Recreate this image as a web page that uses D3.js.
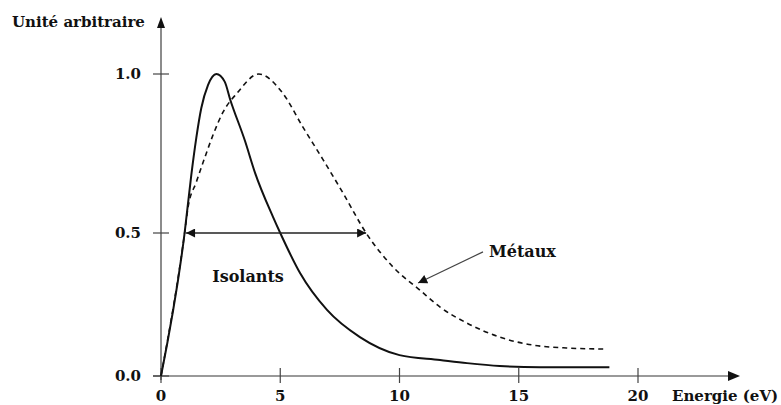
<!DOCTYPE html>
<html>
<head>
<meta charset="utf-8">
<script src="https://cdn.jsdelivr.net/npm/d3@7"></script>
<style>
  html, body { margin: 0; padding: 0; background: #fff; }
</style>
</head>
<body>
<svg id="chart" width="781" height="405"></svg>
<script>
// Energy (eV) and normalised intensity for each material family
const isolantsEnergy = [0, 0.99, 1.27, 1.48, 1.69, 1.97, 2.32, 2.67, 2.9, 3.52, 3.94, 4.7, 5.0, 5.83, 6.96, 8.34, 10.0, 11.7, 12.83, 14.2, 15.9, 18.8];
const isolantsValue  = [0, 0.5, 0.682, 0.799, 0.893, 0.965, 1.0, 0.976, 0.92, 0.79, 0.69, 0.55, 0.5, 0.36, 0.231, 0.136, 0.073, 0.056, 0.045, 0.035, 0.031, 0.031];

const metauxEnergy = [0, 0.99, 1.13, 1.48, 1.83, 2.18, 2.6, 3.19, 4.1, 5.1, 5.95, 6.8, 7.63, 8.6, 9.73, 10.86, 11.7, 12.83, 14.2, 15.6, 17.0, 18.7];
const metauxValue  = [0, 0.5, 0.579, 0.66, 0.736, 0.808, 0.88, 0.94, 1.0, 0.94, 0.833, 0.73, 0.626, 0.5, 0.381, 0.30, 0.241, 0.185, 0.136, 0.108, 0.098, 0.094];

const xTicks = [0, 5, 10, 15, 20];
const yTicks = [0.0, 0.5, 1.0];
const yTickLabels = ["0.0", "0.5", "1.0"];

// Width of the distribution at half maximum, and where the "Métaux" pointer lands
const halfWidth = [1.05, 8.6];
const metauxPointer = { from: [13.5, 0.434], to: [10.78, 0.325] };

const FONT = "DejaVu Serif, Liberation Serif, serif";

const svg = d3.select("#chart")
  .style("font-family", FONT)
  .style("font-weight", "bold");

const x = d3.scaleLinear().domain([0, 20]).range([161, 638]);
const y = d3.scaleLinear().domain([0, 0.5, 1]).range([376, 233, 74]);

// Arrowhead marker
const defs = svg.append("defs");
defs.append("marker")
  .attr("id", "tri")
  .attr("viewBox", "0 0 10 10")
  .attr("refX", 10).attr("refY", 5)
  .attr("markerWidth", 10).attr("markerHeight", 9)
  .attr("markerUnits", "userSpaceOnUse")
  .attr("orient", "auto-start-reverse")
  .append("path").attr("d", "M0,0 L10,5 L0,10 Z").attr("fill", "#111");

// Axes
svg.append("line")
  .attr("x1", 153).attr("x2", 728)
  .attr("y1", y(0)).attr("y2", y(0))
  .attr("stroke", "#999").attr("stroke-width", 2);
svg.append("path")
  .attr("d", `M728,${y(0) - 5} L740,${y(0)} L728,${y(0) + 5} Z`)
  .attr("fill", "#111");

svg.append("line")
  .attr("x1", x(0)).attr("x2", x(0))
  .attr("y1", 380).attr("y2", 28)
  .attr("stroke", "#666").attr("stroke-width", 1.5);
svg.append("path")
  .attr("d", `M${x(0) - 4},28 L${x(0)},17 L${x(0) + 4},28 Z`)
  .attr("fill", "#111");

// Ticks and tick labels
svg.selectAll(".xt").data(xTicks).enter().append("line")
  .attr("x1", d => x(d)).attr("x2", d => x(d))
  .attr("y1", y(0) - 8).attr("y2", y(0) + 7)
  .attr("stroke", "#444").attr("stroke-width", 1.2);
svg.selectAll(".xl").data(xTicks).enter().append("text")
  .attr("x", d => x(d)).attr("y", 401)
  .attr("text-anchor", "middle").attr("font-size", 15)
  .attr("fill", "#111")
  .text(d => d);

svg.selectAll(".yt").data(yTicks).enter().append("line")
  .attr("x1", x(0) - 8).attr("x2", x(0) + 8)
  .attr("y1", d => y(d)).attr("y2", d => y(d))
  .attr("stroke", "#444").attr("stroke-width", 1.2);
svg.selectAll(".yl").data(yTicks).enter().append("text")
  .attr("x", 141).attr("y", d => y(d) + 5)
  .attr("text-anchor", "end").attr("font-size", 15)
  .attr("fill", "#111")
  .text((d, i) => yTickLabels[i]);

// Axis titles
svg.append("text").attr("x", 12).attr("y", 27).attr("font-size", 15)
  .attr("fill", "#111").text("Unité arbitraire");
svg.append("text").attr("x", 672).attr("y", 401).attr("font-size", 15)
  .attr("fill", "#111").text("Energie (eV)");

// Curves
const line = d3.line()
  .x(d => x(d[0])).y(d => y(d[1]))
  .curve(d3.curveMonotoneX);

svg.append("path")
  .datum(metauxEnergy.map((e, i) => [e, metauxValue[i]]))
  .attr("d", line)
  .attr("fill", "none").attr("stroke", "#111")
  .attr("stroke-width", 1.6).attr("stroke-dasharray", "5,4");

svg.append("path")
  .datum(isolantsEnergy.map((e, i) => [e, isolantsValue[i]]))
  .attr("d", line)
  .attr("fill", "none").attr("stroke", "#111")
  .attr("stroke-width", 2);

// Full width at half maximum
svg.append("line")
  .attr("x1", x(halfWidth[0])).attr("x2", x(halfWidth[1]))
  .attr("y1", y(0.5)).attr("y2", y(0.5))
  .attr("stroke", "#222").attr("stroke-width", 1.3)
  .attr("marker-start", "url(#tri)").attr("marker-end", "url(#tri)");

// Annotations
svg.append("text").attr("x", 248).attr("y", 282)
  .attr("text-anchor", "middle").attr("font-size", 16)
  .attr("fill", "#111").text("Isolants");

svg.append("text").attr("x", 489).attr("y", 257)
  .attr("font-size", 16).attr("fill", "#111").text("Métaux");

svg.append("line")
  .attr("x1", x(metauxPointer.from[0])).attr("y1", y(metauxPointer.from[1]))
  .attr("x2", x(metauxPointer.to[0])).attr("y2", y(metauxPointer.to[1]))
  .attr("stroke", "#444").attr("stroke-width", 1.2)
  .attr("marker-end", "url(#tri)");
</script>
</body>
</html>
